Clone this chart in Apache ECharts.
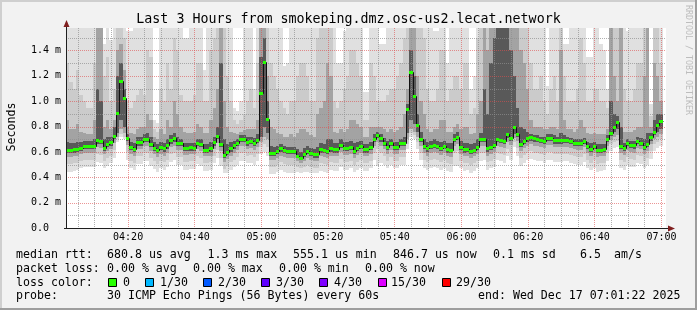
<!DOCTYPE html>
<html><head><meta charset="utf-8">
<script src="https://cdn.jsdelivr.net/npm/echarts@6/dist/echarts.min.js"></script>
<style>html,body{margin:0;padding:0;background:#f2f2f2}#c{width:697px;height:310px}</style>
</head><body><div id="c"></div>
<script>
// ---- time axis (minutes since 04:00) ----
const startMin = 1 + 22/60;          // 04:01:22
const spanMin = 180;                 // 3 hours
const xMajor = [20,40,60,80,100,120,140,160,180];
const xMinor = [5,10,15,25,30,35,45,50,55,65,70,75,85,90,95,105,110,115,125,130,135,145,150,155,165,170,175];
// ---- value axis (ms) ----
const yMax = 1.5773;
const yLabels = [0,0.2,0.4,0.6,0.8,1.0,1.2,1.4];
const yMajor = [0.2,0.4,0.6,0.8,1.0,1.2,1.4];
const yMinor = [0.1,0.3,0.5,0.7,0.9,1.1,1.3,1.5];

// median rtt per 60s step (ms)
const median = [0.615,0.615,0.62,0.625,0.633,0.647,0.647,0.647,0.647,0.692,
0.686,0.633,0.66,0.678,0.726,0.904,1.159,1.023,0.712,0.641,
0.625,0.678,0.678,0.70,0.70,0.66,0.633,0.613,0.639,0.628,
0.652,0.692,0.707,0.668,0.668,0.631,0.631,0.635,0.633,0.673,
0.66,0.618,0.618,0.628,0.678,0.726,0.66,0.576,0.602,0.628,
0.652,0.668,0.70,0.70,0.678,0.686,0.668,0.694,1.062,1.312,
0.862,0.594,0.594,0.61,0.628,0.615,0.605,0.605,0.605,0.568,
0.552,0.586,0.61,0.594,0.581,0.581,0.62,0.613,0.605,0.628,
0.62,0.62,0.657,0.631,0.631,0.641,0.61,0.631,0.647,0.62,
0.62,0.641,0.704,0.735,0.707,0.673,0.641,0.671,0.641,0.641,
0.668,0.668,0.936,1.233,1.041,0.81,0.704,0.647,0.628,0.647,
0.655,0.647,0.631,0.647,0.62,0.615,0.704,0.72,0.639,0.62,
0.625,0.605,0.618,0.641,0.70,0.704,0.628,0.639,0.655,0.704,
0.694,0.686,0.738,0.712,0.797,0.743,0.66,0.686,0.707,0.718,
0.707,0.70,0.694,0.686,0.712,0.712,0.692,0.692,0.692,0.697,
0.697,0.686,0.673,0.668,0.668,0.689,0.647,0.625,0.647,0.615,
0.618,0.623,0.70,0.752,0.80,0.835,0.647,0.631,0.668,0.655,
0.652,0.684,0.673,0.641,0.665,0.715,0.76,0.81,0.847];

// smoke: upper edges of the four gray layers (light -> dark)
const u1 = [1.6,1.6,1.6,1.6,1.6,1.6,1.6,1.6,1.6,1.6,
1.6,1.45,1.6,1.48,1.6,1.6,1.6,1.6,1.55,1.55,
1.6,1.6,1.6,1.6,1.6,1.6,0.85,0.83,1.6,1.6,
1.6,1.6,1.6,1.6,1.6,1.5,1.5,1.6,1.6,1.6,
1.6,1.25,1.6,1.6,1.6,1.6,1.6,1.6,1.6,1.6,
0.95,0.92,1.0,1.6,1.6,1.6,1.1,1.6,1.6,1.6,
1.6,1.6,1.6,1.6,1.6,1.28,1.3,1.6,1.6,1.6,
1.6,1.6,1.6,1.6,1.6,1.6,1.6,1.6,1.6,1.6,
1.6,1.3,1.3,1.55,1.6,1.6,1.6,1.6,1.6,1.07,
1.07,1.6,1.6,1.6,1.45,1.45,1.6,1.6,1.6,1.6,
1.6,1.6,1.6,1.6,1.6,1.6,1.6,1.6,1.6,1.6,
1.55,1.55,1.6,1.6,1.3,1.6,1.6,1.6,1.6,1.6,
1.6,1.1,1.2,1.6,1.6,1.6,1.6,1.6,1.6,1.6,
1.6,1.6,1.6,1.6,1.6,1.6,1.6,1.6,1.6,1.6,
1.6,1.6,1.6,1.6,1.12,1.6,1.6,1.6,1.6,1.45,
1.45,1.6,1.6,1.6,1.6,1.6,1.35,1.35,1.6,1.6,
1.45,1.4,1.1,1.6,1.6,1.6,1.6,1.6,1.55,1.6,
1.6,1.6,1.6,1.6,1.6,0.98,1.6,1.6,1.6];
const u2 = [1.3,1.15,1.1,1.25,1.05,1.0,0.95,0.95,1.3,1.6,
1.6,1.2,1.35,1.0,1.1,1.6,1.6,1.5,1.0,0.95,
1.0,1.05,1.1,1.05,1.4,1.35,0.78,0.76,1.1,1.0,
1.3,1.1,1.5,1.4,1.05,1.0,1.0,1.0,1.05,1.3,
1.3,1.0,1.0,1.4,1.5,1.6,1.6,1.6,1.2,1.0,
0.85,0.82,0.85,0.9,1.0,1.1,0.95,1.3,1.6,1.6,
1.6,1.3,1.2,1.1,1.0,0.95,0.9,1.0,1.0,1.2,
1.3,1.3,1.2,1.0,1.0,1.5,1.6,1.6,1.6,1.6,
1.0,0.95,1.0,1.1,1.2,1.4,1.4,1.3,1.2,0.85,
0.85,1.3,1.2,1.0,1.0,1.0,1.05,1.1,1.1,1.2,
1.3,1.5,1.6,1.6,1.6,1.6,1.6,1.5,1.1,1.0,
1.0,1.1,1.4,1.4,1.0,1.1,1.2,1.2,1.1,1.3,
1.3,0.9,0.95,1.5,1.6,1.6,1.6,1.6,1.6,1.6,
1.6,1.6,1.6,1.6,1.6,1.6,1.6,1.6,1.6,1.3,
1.1,1.1,1.2,1.0,0.9,1.1,1.2,1.0,1.6,1.2,
1.0,1.0,1.0,1.1,1.5,1.3,1.0,1.0,1.1,1.1,
1.0,1.0,0.95,1.6,1.6,1.6,1.6,1.1,1.0,1.0,
1.1,1.3,1.3,1.6,1.6,0.88,1.6,1.6,1.3];
const u3 = [0.85,0.78,0.78,0.82,0.76,0.75,0.74,0.74,0.85,1.6,
1.6,0.8,0.85,0.78,0.85,1.4,1.45,1.25,0.8,0.75,
0.74,0.78,0.8,0.8,0.9,0.85,0.72,0.7,0.78,0.74,
0.85,0.8,1.0,0.9,0.8,0.76,0.75,0.75,0.76,0.82,
0.8,0.75,0.75,0.85,0.95,1.1,1.6,1.0,0.8,0.76,
0.75,0.74,0.76,0.77,0.78,0.78,0.78,0.85,1.6,1.6,
1.2,0.8,0.78,0.75,0.74,0.72,0.72,0.74,0.72,0.75,
0.78,0.78,0.76,0.73,0.72,0.9,0.95,1.0,1.3,1.2,
0.76,0.75,0.78,0.76,0.78,0.85,0.85,0.82,0.8,0.72,
0.72,0.8,0.8,0.8,0.8,0.78,0.76,0.78,0.76,0.77,
0.8,0.9,1.1,1.6,1.6,1.2,1.0,0.9,0.78,0.76,
0.78,0.78,0.85,0.85,0.76,0.76,0.8,0.82,0.78,0.8,
0.8,0.74,0.75,0.9,1.0,1.6,1.4,1.6,1.6,1.6,
1.6,1.6,1.6,1.6,1.6,1.6,1.4,1.3,1.1,0.85,
0.8,0.8,0.8,0.78,0.78,0.8,0.8,0.78,1.4,0.85,
0.78,0.78,0.76,0.78,0.85,0.8,0.75,0.74,0.75,0.74,
0.74,0.74,0.78,1.6,1.2,1.0,1.6,0.76,0.76,0.76,
0.77,0.8,0.8,1.2,1.6,0.8,1.3,1.2,1.0];
const u4 = [0.68,0.67,0.67,0.68,0.68,0.69,0.69,0.69,0.7,1.1,
1.0,0.7,0.72,0.72,0.8,1.2,1.3,1.1,0.74,0.68,
0.67,0.72,0.72,0.74,0.75,0.72,0.68,0.66,0.68,0.67,
0.7,0.73,0.75,0.72,0.7,0.67,0.67,0.67,0.67,0.7,
0.7,0.66,0.66,0.68,0.72,0.8,1.3,0.7,0.66,0.68,
0.69,0.7,0.73,0.73,0.72,0.72,0.71,0.74,1.35,1.5,
1.0,0.65,0.64,0.65,0.66,0.65,0.64,0.64,0.64,0.62,
0.6,0.63,0.65,0.63,0.62,0.64,0.67,0.66,0.7,0.7,
0.67,0.67,0.7,0.68,0.68,0.69,0.67,0.68,0.69,0.66,
0.66,0.68,0.74,0.76,0.74,0.71,0.69,0.7,0.68,0.68,
0.7,0.72,0.98,1.4,1.2,0.9,0.76,0.7,0.68,0.69,
0.7,0.69,0.68,0.69,0.67,0.67,0.74,0.76,0.69,0.67,
0.67,0.66,0.67,0.7,0.75,1.1,0.9,1.3,1.5,1.6,
1.6,1.6,1.6,1.4,1.2,0.95,0.8,0.78,0.76,0.74,
0.73,0.73,0.72,0.72,0.74,0.74,0.73,0.72,0.75,0.73,
0.72,0.71,0.7,0.7,0.7,0.71,0.68,0.67,0.68,0.66,
0.66,0.66,0.73,1.0,0.9,0.88,0.8,0.67,0.7,0.69,
0.69,0.72,0.71,0.7,0.75,0.75,0.85,0.9,0.9];
// smoke: lower edges of the four gray layers (light -> dark)
const l1 = [0.445,0.445,0.45,0.46,0.47,0.48,0.48,0.48,0.48,0.52,
0.515,0.47,0.49,0.51,0.555,0.68,0.72,0.70,0.54,0.47,
0.455,0.505,0.505,0.53,0.53,0.49,0.465,0.445,0.47,0.46,
0.48,0.52,0.535,0.50,0.50,0.46,0.46,0.465,0.465,0.505,
0.49,0.45,0.45,0.46,0.51,0.555,0.49,0.43,0.435,0.46,
0.48,0.50,0.53,0.53,0.51,0.515,0.50,0.525,0.58,0.60,
0.57,0.425,0.425,0.44,0.46,0.445,0.435,0.435,0.435,0.44,
0.435,0.44,0.44,0.43,0.43,0.43,0.45,0.445,0.435,0.46,
0.45,0.45,0.485,0.46,0.46,0.47,0.44,0.46,0.475,0.45,
0.45,0.47,0.535,0.49,0.51,0.50,0.47,0.50,0.47,0.47,
0.50,0.50,0.62,0.72,0.70,0.62,0.535,0.475,0.46,0.475,
0.485,0.475,0.46,0.475,0.45,0.445,0.49,0.49,0.47,0.45,
0.455,0.435,0.45,0.47,0.53,0.535,0.46,0.47,0.485,0.535,
0.525,0.515,0.565,0.54,0.64,0.57,0.49,0.515,0.535,0.545,
0.535,0.53,0.525,0.515,0.54,0.54,0.52,0.52,0.52,0.525,
0.525,0.515,0.505,0.50,0.50,0.52,0.475,0.455,0.475,0.445,
0.45,0.455,0.53,0.61,0.63,0.64,0.475,0.46,0.50,0.485,
0.48,0.515,0.505,0.47,0.495,0.545,0.61,0.63,0.65];
const l2 = [0.505,0.505,0.51,0.515,0.525,0.535,0.535,0.535,0.535,0.58,
0.575,0.525,0.55,0.565,0.615,0.70,0.74,0.72,0.60,0.53,
0.515,0.565,0.565,0.59,0.59,0.55,0.525,0.505,0.53,0.52,
0.54,0.58,0.595,0.56,0.56,0.52,0.52,0.525,0.525,0.565,
0.55,0.51,0.51,0.52,0.57,0.615,0.55,0.465,0.49,0.52,
0.54,0.56,0.59,0.59,0.57,0.575,0.56,0.585,0.64,0.66,
0.64,0.485,0.485,0.50,0.52,0.505,0.495,0.495,0.495,0.48,
0.47,0.48,0.50,0.485,0.475,0.475,0.51,0.505,0.495,0.52,
0.51,0.51,0.545,0.52,0.52,0.53,0.50,0.52,0.535,0.51,
0.51,0.53,0.595,0.625,0.595,0.565,0.53,0.56,0.53,0.53,
0.56,0.56,0.66,0.75,0.73,0.68,0.595,0.535,0.52,0.535,
0.545,0.535,0.52,0.535,0.51,0.505,0.595,0.61,0.53,0.51,
0.515,0.495,0.51,0.53,0.59,0.595,0.52,0.53,0.545,0.595,
0.585,0.575,0.625,0.60,0.68,0.63,0.55,0.575,0.595,0.605,
0.595,0.59,0.585,0.575,0.60,0.60,0.58,0.58,0.58,0.585,
0.585,0.575,0.565,0.56,0.56,0.58,0.535,0.515,0.535,0.505,
0.51,0.515,0.59,0.66,0.68,0.69,0.535,0.52,0.56,0.545,
0.54,0.575,0.565,0.53,0.555,0.605,0.66,0.68,0.70];
const l3 = [0.56,0.56,0.565,0.57,0.58,0.59,0.59,0.59,0.59,0.635,
0.63,0.58,0.605,0.62,0.67,0.72,0.78,0.75,0.655,0.585,
0.57,0.62,0.62,0.645,0.645,0.605,0.58,0.56,0.585,0.57,
0.595,0.635,0.65,0.615,0.615,0.575,0.575,0.58,0.58,0.62,
0.605,0.565,0.565,0.57,0.62,0.67,0.605,0.52,0.545,0.57,
0.595,0.615,0.645,0.645,0.62,0.63,0.615,0.64,0.68,0.72,
0.70,0.54,0.54,0.555,0.57,0.56,0.55,0.55,0.55,0.525,
0.515,0.53,0.555,0.54,0.525,0.525,0.565,0.56,0.55,0.57,
0.565,0.565,0.60,0.575,0.575,0.585,0.555,0.575,0.59,0.565,
0.565,0.585,0.65,0.68,0.65,0.62,0.585,0.615,0.585,0.585,
0.615,0.615,0.70,0.78,0.76,0.72,0.65,0.59,0.57,0.59,
0.60,0.59,0.575,0.59,0.565,0.56,0.65,0.665,0.585,0.565,
0.57,0.55,0.565,0.585,0.645,0.65,0.57,0.585,0.60,0.65,
0.64,0.63,0.68,0.655,0.71,0.685,0.605,0.63,0.65,0.66,
0.65,0.645,0.64,0.63,0.655,0.655,0.635,0.635,0.635,0.64,
0.64,0.63,0.62,0.615,0.615,0.635,0.59,0.57,0.59,0.56,
0.565,0.57,0.645,0.695,0.72,0.73,0.59,0.575,0.615,0.60,
0.595,0.63,0.62,0.585,0.61,0.66,0.70,0.72,0.74];
const l4 = [0.59,0.59,0.595,0.60,0.61,0.62,0.62,0.62,0.62,0.665,
0.66,0.61,0.635,0.65,0.70,0.75,0.85,0.80,0.685,0.615,
0.60,0.65,0.65,0.675,0.675,0.635,0.61,0.59,0.615,0.60,
0.625,0.665,0.68,0.645,0.645,0.605,0.605,0.61,0.61,0.65,
0.635,0.595,0.595,0.60,0.65,0.70,0.635,0.55,0.575,0.60,
0.625,0.645,0.675,0.675,0.65,0.66,0.645,0.67,0.72,0.80,
0.75,0.57,0.57,0.585,0.60,0.59,0.58,0.58,0.58,0.55,
0.535,0.56,0.585,0.57,0.555,0.555,0.595,0.59,0.58,0.60,
0.595,0.595,0.63,0.605,0.605,0.615,0.585,0.605,0.62,0.595,
0.595,0.615,0.68,0.71,0.68,0.65,0.615,0.645,0.615,0.615,
0.645,0.645,0.75,0.85,0.82,0.76,0.68,0.62,0.60,0.62,
0.63,0.62,0.605,0.62,0.595,0.59,0.68,0.695,0.615,0.595,
0.60,0.58,0.595,0.615,0.675,0.68,0.60,0.615,0.63,0.68,
0.67,0.66,0.71,0.685,0.74,0.715,0.635,0.66,0.68,0.69,
0.68,0.675,0.67,0.66,0.685,0.685,0.665,0.665,0.665,0.67,
0.67,0.66,0.65,0.645,0.645,0.665,0.62,0.60,0.62,0.59,
0.595,0.60,0.675,0.725,0.76,0.78,0.62,0.605,0.645,0.63,
0.625,0.66,0.65,0.615,0.64,0.69,0.73,0.76,0.78];

const lossColors = ['#26ff00','#00b8ff','#0059ff','#5e00ff','#7e00ff','#dd00ff','#ff0000'];
const lossLabels = ['0','1/30','2/30','3/30','4/30','15/30','29/30'];

const smokeColors = ['#e0e0e0','#cbcbcb','#a3a3a3','#595959'];
const MONO = '"DejaVu Sans Mono", monospace';
const GRID = {left:66, top:28, width:600, height:200};

const chart = echarts.init(document.getElementById('c'), null, {renderer:'canvas', width:697, height:310});

const smokeData = median.map((m,i)=>[startMin+i, startMin+i+1, l1[i],u1[i],l2[i],u2[i],l3[i],u3[i],l4[i],u4[i]]);
const medData = median.map((m,i)=>[startMin+i, startMin+i+1, m, i+1<median.length ? median[i+1] : m]);

function px(api, x, y){ return api.coord([x, y]); }

function renderSmoke(params, api){
  const xa = Math.round(px(api, api.value(0), 0)[0]);
  const xb = Math.round(px(api, api.value(1), 0)[0]);
  const kids = [];
  for (let j=0;j<4;j++){
    const lo = api.value(2+2*j), hi = Math.min(api.value(3+2*j), yMax);
    const ya = Math.round(px(api, 0, lo)[1]), yb = Math.round(px(api, 0, hi)[1]);
    kids.push({type:'rect', shape:{x:xa, y:yb, width:xb-xa, height:ya-yb}, style:{fill:smokeColors[j]}});
  }
  return {type:'group', children:kids};
}
function renderMedLine(params, api){
  const xa = Math.round(px(api, api.value(0), 0)[0]);
  const xb = Math.round(px(api, api.value(1), 0)[0]);
  const y0 = Math.round(px(api, 0, api.value(2))[1]) + 0.5;
  const y1 = Math.round(px(api, 0, api.value(3))[1]) + 0.5;
  return {type:'group', children:[
    {type:'line', shape:{x1:xa, y1:y0, x2:xb+0.5, y2:y0}, style:{stroke:'#111', lineWidth:1}},
    {type:'line', shape:{x1:xb+0.5, y1:y0, x2:xb+0.5, y2:y1}, style:{stroke:'#111', lineWidth:1}}
  ]};
}
function renderMedBox(params, api){
  const xa = Math.round(px(api, api.value(0), 0)[0]);
  const xb = Math.round(px(api, api.value(1), 0)[0]);
  const y = Math.round(px(api, 0, api.value(2))[1]);
  return {type:'rect', shape:{x:xa, y:y-1, width:xb-xa, height:3}, style:{fill:lossColors[0]}};
}
// vertical dotted grid line built from 1px dots
function gridV(color){
  return function(params, api){
    const cs = params.coordSys;
    const x = Math.floor(px(api, api.value(0), 0)[0]);
    const dots = [];
    for (let y = cs.y; y < cs.y + cs.height; y += 2){
      dots.push({type:'rect', shape:{x:x, y:y, width:1, height:1}, style:{fill:color}});
    }
    return {type:'group', children:dots};
  };
}
function gridH(color){
  return function(params, api){
    const cs = params.coordSys;
    const y = Math.round(px(api, startMin, api.value(1))[1]) + 0.5;
    return {type:'line', shape:{x1:cs.x, y1:y, x2:cs.x+cs.width, y2:y}, style:{stroke:color, lineWidth:1, lineDash:[1,1]}};
  };
}
const GRID_MINOR = 'rgba(143,143,143,0.7)';
const GRID_MAJOR = 'rgba(222,79,79,0.6)';

function hhmm(v){ const h = 4 + Math.floor(v/60), m = Math.round(v%60); return (h<10?'0':'')+h+':'+(m<10?'0':'')+m; }

const texts = [];
function T(x, y, s, extra){ texts.push(Object.assign({type:'text', x:x, y:y, silent:true, style:{text:s, font:'11.6px '+MONO, fill:'#000', textAlign:'left', textVerticalAlign:'middle', verticalAlign:'middle'}}, extra||{})); }
T(16,254.5,'median rtt:'); T(107,254.5,'680.8 us avg'); T(207.5,254.5,'1.3 ms max'); T(293,254.5,'555.1 us min');
T(393,254.5,'846.7 us now'); T(493,254.5,'0.1 ms sd'); T(580,254.5,'6.5'); T(614,254.5,'am/s');
T(16,268.5,'packet loss:'); T(107,268.5,'0.00 % avg'); T(193,268.5,'0.00 % max'); T(279,268.5,'0.00 % min'); T(365,268.5,'0.00 % now');
T(16,282.5,'loss color:');
const swX = [108,145,203,261,319,378,442], lbX = [123,160,218,276,334,391,456];
lossColors.forEach((c,i)=>{
  texts.push({type:'rect', silent:true, shape:{x:swX[i]+0.5, y:278.5, width:8, height:8}, style:{fill:c, stroke:'#000', lineWidth:1}});
  T(lbX[i],282.5,lossLabels[i]);
});
T(16,296,'probe:'); T(107,296,'30 ICMP Echo Pings (56 Bytes) every 60s'); T(478,296,'end: Wed Dec 17 07:01:22 2025');

const deco = [
  {type:'rect', silent:true, shape:{x:0,y:0,width:697,height:2}, style:{fill:'#cfcfcf'}},
  {type:'rect', silent:true, shape:{x:0,y:0,width:2,height:310}, style:{fill:'#cfcfcf'}},
  {type:'rect', silent:true, shape:{x:0,y:308,width:697,height:2}, style:{fill:'#9e9e9e'}},
  {type:'rect', silent:true, shape:{x:695,y:0,width:2,height:310}, style:{fill:'#9e9e9e'}},
  {type:'text', silent:true, x:348.5, y:20, style:{text:'Last 3 Hours from smokeping.dmz.osc-us2.lecat.network', font:'13.3px '+MONO, fill:'#000', textAlign:'center', textVerticalAlign:'middle', align:'center', verticalAlign:'middle'}},
  {type:'text', silent:true, x:12, y:127, rotation:Math.PI/2, style:{text:'Seconds', font:'11.6px '+MONO, fill:'#000', textAlign:'center', textVerticalAlign:'middle', align:'center', verticalAlign:'middle'}},
  {type:'text', silent:true, x:688, y:60, rotation:-Math.PI/2, style:{text:'RRDTOOL / TOBI OETIKER', font:'8.3px '+MONO, fill:'#bdbdbd', textAlign:'center', textVerticalAlign:'middle', align:'center', verticalAlign:'middle'}},
  // axes with arrows
  {type:'line', silent:true, shape:{x1:66.5, y1:229, x2:66.5, y2:25}, style:{stroke:'#1f1f1f', lineWidth:1}, z:100},
  {type:'line', silent:true, shape:{x1:64, y1:228.5, x2:669, y2:228.5}, style:{stroke:'#1f1f1f', lineWidth:1}, z:100},
  {type:'polygon', silent:true, shape:{points:[[63.5,27],[69.5,27],[66.5,20]]}, style:{fill:'#801f1f'}, z:100},
  {type:'polygon', silent:true, shape:{points:[[668,225.5],[668,231.5],[675,228.5]]}, style:{fill:'#801f1f'}, z:100}
];

chart.setOption({
  animation:false,
  backgroundColor:'#f2f2f2',
  grid:{left:GRID.left, top:GRID.top, width:GRID.width, height:GRID.height, show:true, backgroundColor:'#ffffff', borderWidth:0},
  xAxis:{type:'value', min:startMin, max:startMin+spanMin,
    axisLine:{show:false}, axisTick:{show:false}, splitLine:{show:false},
    axisLabel:{customValues:xMajor, formatter:hhmm, margin:4, fontSize:10, fontFamily:MONO, color:'#000'}},
  yAxis:{type:'value', min:0, max:yMax,
    axisLine:{show:false}, axisTick:{show:false}, splitLine:{show:false},
    axisLabel:{customValues:yLabels, margin:5, fontSize:10, fontFamily:MONO, color:'#000',
      formatter:v=> v===0 ? '0.0  ' : v.toFixed(1)+' m'}},
  graphic:{elements: deco.concat(texts)},
  series:[
    {type:'custom', name:'smoke', z:1, silent:true, renderItem:renderSmoke, data:smokeData, encode:{x:[0,1], y:[2,3,4,5,6,7,8,9]}},
    {type:'custom', name:'gridMinorV', z:2, silent:true, renderItem:gridV(GRID_MINOR), data:xMinor.map(v=>[v,0]), encode:{x:0,y:1}},
    {type:'custom', name:'gridMinorH', z:2, silent:true, renderItem:gridH(GRID_MINOR), data:yMinor.map(v=>[startMin,v]), encode:{x:0,y:1}},
    {type:'custom', name:'gridMajorV', z:3, silent:true, renderItem:gridV(GRID_MAJOR), data:xMajor.map(v=>[v,0]), encode:{x:0,y:1}},
    {type:'custom', name:'gridMajorH', z:3, silent:true, renderItem:gridH(GRID_MAJOR), data:yMajor.map(v=>[startMin,v]), encode:{x:0,y:1}},
    {type:'custom', name:'medianLine', z:4, silent:true, renderItem:renderMedLine, data:medData, encode:{x:[0,1], y:[2,3]}},
    {type:'custom', name:'median', z:5, silent:true, renderItem:renderMedBox, data:medData, encode:{x:[0,1], y:[2]}}
  ]
});
</script></body></html>
